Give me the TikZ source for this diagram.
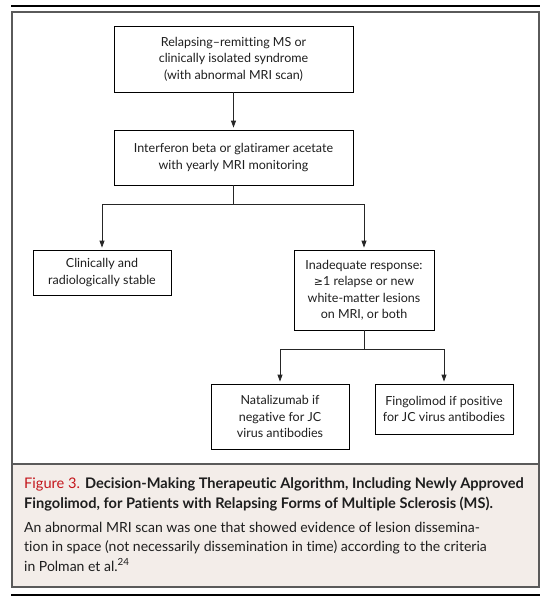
\documentclass[tikz,border=0pt]{standalone}
\usepackage{fontspec}
\setmainfont{Lato}[Ligatures={NoCommon,TeX}]
\newfontfamily\symfont{DejaVu Sans}
\usetikzlibrary{arrows.meta}
\definecolor{capbg}{HTML}{F3EDE9}
\definecolor{figred}{HTML}{C4161C}
\definecolor{framegray}{HTML}{5A5A5A}
\definecolor{txt}{HTML}{1E1E1E}
\begin{document}
\begin{tikzpicture}[x=1pt,y=-1pt,
  box/.style={draw=black, line width=0.8pt, align=center, inner sep=0pt,
    font=\fontsize{12.5}{16.5}\selectfont, text=txt},
  conn/.style={line width=0.8pt, draw=black!85},
  arr/.style={conn, -{Triangle[length=7pt,width=5pt]}, shorten >=2pt},
  caption/.style={anchor=base west, inner sep=0pt, font=\fontsize{14}{20}\selectfont, text=txt},
  captitle/.style={caption, font=\fontsize{14.6}{20}\selectfont}]
\useasboundingbox (0,0) rectangle (551,600);
\fill[capbg] (11.5,464) rectangle (539,587);
\draw[framegray, line width=2pt] (11.5,11.5) rectangle (539,587);
\draw[framegray, line width=2pt] (11.5,464) -- (539,464);
\draw[black, line width=1.2pt] (11,6) -- (540,6);
\draw[black, line width=1.2pt] (11,595) -- (540,595);

\node[box, minimum width=239pt, minimum height=66pt] (b1) at (233.5,59)
  {Relapsing–remitting MS or\\clinically isolated syndrome\\(with abnormal MRI scan)};
\node[box, minimum width=239pt, minimum height=55pt] (b2) at (233.5,157.5)
  {Interferon beta or glatiramer acetate\\with yearly MRI monitoring};
\node[box, minimum width=138pt, minimum height=45pt] (b3) at (102,272.5)
  {Clinically and\\radiologically stable};
\node[box, minimum width=140pt, minimum height=80pt] (b4) at (364,290)
  {Inadequate response:\\{\symfont\fontsize{11}{16.5}\selectfont ≥}1 relapse or new\\white-matter lesions\\on MRI, or both};
\node[box, minimum width=138pt, minimum height=65pt] (b5) at (280,416.5)
  {Natalizumab if\\negative for JC\\virus antibodies};
\node[box, minimum width=138pt, minimum height=50pt] (b6) at (444,409)
  {Fingolimod if positive\\for JC virus antibodies};

\coordinate (j1) at (233.5,204);
\coordinate (j2) at (364,349);
\draw[arr] (b1) -- (b2);
\draw[conn] (b2.south) -- (j1);
\draw[arr] (j1) -| (b3.north);
\draw[arr] (j1) -| (b4.north);
\draw[conn] (b4.south) -- (j2);
\draw[arr] (j2) -| (b5.north);
\draw[arr] (j2) -| (b6.north);

\node[captitle] (c1) at (24,488) {\textcolor{figred}{Figure 3.} \textbf{Decision-Making Therapeutic Algorithm, Including Newly Approved}};
\node[captitle] (c2) at (24,508) {\textbf{Fingolimod, for Patients with Relapsing Forms of Multiple Sclerosis (MS).}};
\node[caption] (c3) at (24,532) {An abnormal MRI scan was one that showed evidence of lesion dissemina-};
\node[caption] (c4) at (24,551) {tion in space (not necessarily dissemination in time) according to the criteria};
\node[caption] (c5) at (24,571) {in Polman et al.\textsuperscript{24}};
\end{tikzpicture}
\end{document}
